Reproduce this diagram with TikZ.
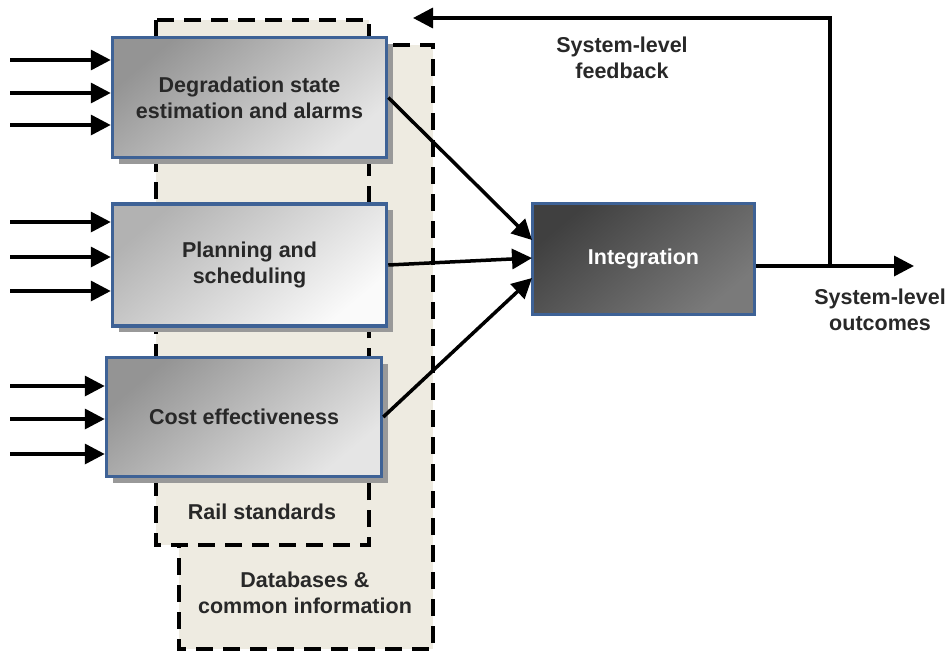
\documentclass[tikz,border=0pt]{standalone}
\usepackage{fontspec}
\setmainfont{Liberation Sans}
\usetikzlibrary{arrows.meta,shadows}
\definecolor{beige}{RGB}{238,235,225}
\definecolor{boxblue}{RGB}{62,98,150}
\definecolor{txt}{RGB}{40,40,40}
\tikzset{
  lbl/.style={font=\bfseries\fontsize{21.5}{26}\selectfont, text=txt, align=center},
  procbase/.style={draw=boxblue, line width=3.5pt, lbl},
  procbox/.style={procbase,
    drop shadow={shadow xshift=6pt, shadow yshift=-6pt, fill=black!40, opacity=1}},
  grayshade/.style={top color=black!42, bottom color=black!10, shading angle=40},
  lightshade/.style={top color=black!30, bottom color=black!2, shading angle=40},
  darkshade/.style={top color=black!75, bottom color=black!52, shading angle=40},
  dashedbox/.style={fill=beige, draw=black, line width=3.5pt, dash pattern=on 17pt off 10pt},
  arr/.style={line width=3.5pt, -{Triangle[length=20pt,width=20pt]}},
}
\begin{document}
\begin{tikzpicture}[x=1pt,y=-1pt]
\useasboundingbox (0,0) rectangle (952,653);
% background regions
\path[dashedbox] (179,45) rectangle (433,649);
\path[dashedbox] (156,20) rectangle (369,545);
\node[lbl] (rail) at (262,512) {Rail standards};
\node[lbl] (db) at (305,593) {Databases \&\\common information};
% process boxes
\node[procbox, grayshade, minimum width=274pt, minimum height=120pt] (d) at (249.5,97.5) {Degradation state\\estimation and alarms};
\node[procbox, lightshade, minimum width=274pt, minimum height=122pt] (p) at (249.5,265) {Planning and\\scheduling};
\node[procbox, grayshade, minimum width=275pt, minimum height=119pt] (c) at (244,417) {Cost effectiveness};
\node[procbase, darkshade, text=white, minimum width=222pt, minimum height=111pt] (int) at (643.5,259) {Integration};
% input arrows
\foreach \y [count=\i] in {60,93,125} { \coordinate (ia\i) at (10,\y); \draw[arr] (ia\i) -- (ia\i -| d.west); }
\foreach \y [count=\i] in {222,257,291} { \coordinate (ib\i) at (10,\y); \draw[arr] (ib\i) -- (ib\i -| p.west); }
\foreach \y [count=\i] in {386,419,454} { \coordinate (ic\i) at (10,\y); \draw[arr] (ic\i) -- (ic\i -| c.west); }
% to integration
\coordinate (t1) at (532,240);
\coordinate (t2) at (532,258);
\coordinate (t3) at (532,278);
\draw[arr] (d.east) -- (t1);
\draw[arr] (p.east) -- (t2);
\draw[arr] (c.east) -- (t3);
% output and feedback
\coordinate (out) at (914,266);
\coordinate (fb) at (830,266);
\coordinate (fbtop) at (830,18);
\coordinate (fbend) at (413,18);
\draw[arr] (out -| int.east) -- (out);
\draw[arr] (fb) -- (fbtop) -- (fbend);
\node[lbl] (fblbl) at (622,58) {System-level\\feedback};
\node[lbl] (outlbl) at (880,310) {System-level\\outcomes};
\end{tikzpicture}
\end{document}
